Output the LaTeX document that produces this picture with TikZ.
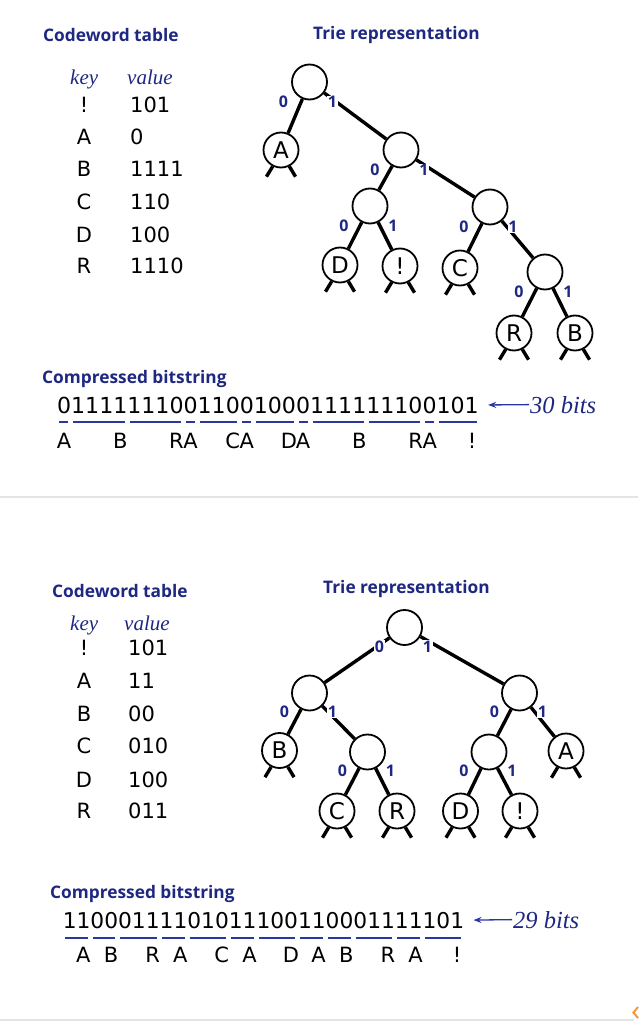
\documentclass[tikz,border=0pt]{standalone}
\usepackage{fontspec}
\usetikzlibrary{calc,arrows.meta}
\newfontfamily\dejavu{DejaVu Sans}
\newfontfamily\titlefont{Open Sans}
\newfontfamily\serifit{Liberation Serif}
\definecolor{navy}{RGB}{30,40,130}
\definecolor{ulblue}{RGB}{40,55,160}
\definecolor{sepgray}{RGB}{228,228,228}
\definecolor{orangemark}{RGB}{245,150,60}
\tikzset{
  x=1pt, y=-1pt,
  trienode/.style={circle, draw, line width=1.8pt, minimum size=35pt, inner sep=0pt, font=\dejavu\fontsize{23}{23}\selectfont},
  trieedge/.style={line width=3.4pt},
  bitlbl/.style={font=\titlefont\bfseries\fontsize{16}{16}\selectfont, text=navy, fill=white, inner sep=0.6pt},
  titletext/.style={font=\titlefont\bfseries\fontsize{17.3}{17.3}\selectfont, text=navy, anchor=base west, inner sep=0pt},
  hdr/.style={font=\serifit\itshape\fontsize{21}{21}\selectfont, text=navy, anchor=base west, inner sep=0pt},
  keycell/.style={font=\dejavu\fontsize{21}{21}\selectfont, anchor=base, inner sep=0pt},
  valcell/.style={font=\dejavu\fontsize{21}{21}\selectfont, anchor=base west, inner sep=0pt},
  letter/.style={font=\dejavu\fontsize{21}{21}\selectfont, anchor=base, inner sep=0pt},
  ul/.style={draw=ulblue, line width=2pt},
  arr/.style={draw=ulblue, line width=1.3pt, -{Stealth[length=8pt,width=6pt]}},
  bitsnote/.style={font=\serifit\itshape\fontsize{24.5}{24.5}\selectfont, text=navy, anchor=base west, inner sep=0pt},
  sepline/.style={draw=sepgray, line width=1.5pt},
}
\begin{document}
\begin{tikzpicture}
\useasboundingbox (0,0) rectangle (638,1024);
\fill[white] (0,0) rectangle (638,1024);
\draw[sepline] (0,497) -- (638,497);
\draw[sepline] (0,1020) -- (634,1020);
\draw[draw=orangemark, line width=2pt] (638,1007) -- (633.5,1012.5) -- (638,1018);

% ================= TOP =================
\node[titletext] (ttab) at (43,42) {Codeword table};
\node[titletext] (ttrie) at (313,40) {Trie representation};
\node[hdr] (tkey) at (70,85) {key};
\node[hdr] (tval) at (127,85) {value};
\foreach \k/\v/\yy [count=\i] in {!/101/113, A/0/145, B/1111/177, C/110/210, D/100/242, R/1110/273}{
  \node[keycell] (tk\i) at (84,\yy) {\k};
  \node[valcell] (tv\i) at (130,\yy) {\v};
}

% trie
\node[trienode] (t)    at (309.5,82) {};
\node[trienode] (tA)   at (281,150) {A};
\node[trienode] (t1)   at (401,150) {};
\node[trienode] (t10)  at (370,206) {};
\node[trienode] (t11)  at (490,207) {};
\node[trienode] (tD)   at (340,265) {D};
\node[trienode] (tX)   at (400,266) {!};
\node[trienode] (tC)   at (460,268) {C};
\node[trienode] (t111) at (545,272) {};
\node[trienode] (tR)   at (514,333) {R};
\node[trienode] (tB)   at (575,333) {B};
\foreach \p/\c in {t/tA, t/t1, t1/t10, t1/t11, t10/tD, t10/tX, t11/tC, t11/t111, t111/tR, t111/tB}
  \draw[trieedge] (\p) -- (\c);
\foreach \p in {t, t1, t10, t11, t111}{
  \node[bitlbl] (\p-l0) at ($(\p)+(-26,20)$) {0};
  \node[bitlbl] (\p-l1) at ($(\p)+(23,20)$) {1};
}
\foreach \n in {tA, tD, tX, tC, tR, tB}{
  \draw[trieedge] (\n.243) -- ++(239:12pt);
  \draw[trieedge] (\n.297) -- ++(301:12pt);
}

% bitstring
\node[titletext] (tcomp) at (42,383) {Compressed bitstring};
\pgfmathsetmacro{\xa}{56.9}
\pgfmathsetmacro{\wa}{14.07}
\node[font=\dejavu\fontsize{22.1}{22.1}\selectfont, anchor=base west, inner sep=0pt] (bs1) at (\xa,413) {011111110011001000111111100101};
\foreach \s/\e/\l [count=\i] in {0/1/A, 1/5/B, 5/9/R, 9/10/A, 10/13/C, 13/14/A, 14/17/D, 17/18/A, 18/22/B, 22/26/R, 26/27/A, 27/30/!}{
  \draw[ul] ({\xa+\s*\wa+2.5},421.5) -- ({\xa+\e*\wa-2.5},421.5);
  \node[letter] (bl\i) at ({\xa+(\e-0.5)*\wa},448) {\l};
}
\node[bitsnote] (n30) at (530,413) {30 bits};
\draw[arr] ([xshift=-1pt]n30.west) -- ([xshift=9pt]bs1.east);

% ================= BOTTOM =================
\node[titletext] (btab) at (52,597) {Codeword table};
\node[titletext] (btrie) at (323,593) {Trie representation};
\node[hdr] (bkey) at (70,630) {key};
\node[hdr] (bval) at (124,630) {value};
\foreach \k/\v/\yy [count=\i] in {!/101/655, A/11/688, B/00/721, C/010/753, D/100/787, R/011/818}{
  \node[keycell] (bk\i) at (84,\yy) {\k};
  \node[valcell] (bv\i) at (128,\yy) {\v};
}

\node[trienode] (b)   at (404.5,627.5) {};
\node[trienode] (bL)  at (309.5,693) {};
\node[trienode] (bRt) at (519.5,693) {};
\node[trienode] (bB)  at (279.5,750.5) {B};
\node[trienode] (bL1) at (367.5,752) {};
\node[trienode] (bR0) at (489,752) {};
\node[trienode] (bA)  at (566,751) {A};
\node[trienode] (bC)  at (337,811) {C};
\node[trienode] (bR)  at (397,811) {R};
\node[trienode] (bD)  at (460.5,811) {D};
\node[trienode] (bX)  at (520,811) {!};
\foreach \p/\c in {b/bL, b/bRt, bL/bB, bL/bL1, bRt/bR0, bRt/bA, bL1/bC, bL1/bR, bR0/bD, bR0/bX}
  \draw[trieedge] (\p) -- (\c);
\foreach \p in {b, bL, bRt, bL1, bR0}{
  \node[bitlbl] (\p-l0) at ($(\p)+(-25,19)$) {0};
  \node[bitlbl] (\p-l1) at ($(\p)+(23,19)$) {1};
}
\foreach \n in {bB, bA, bC, bR, bD, bX}{
  \draw[trieedge] (\n.243) -- ++(239:12pt);
  \draw[trieedge] (\n.297) -- ++(301:12pt);
}

\node[titletext] (bcomp) at (50,898) {Compressed bitstring};
\pgfmathsetmacro{\xb}{62.6}
\pgfmathsetmacro{\wb}{13.84}
\node[font=\dejavu\fontsize{21.76}{21.76}\selectfont, anchor=base west, inner sep=0pt] (bs2) at (\xb,928) {11000111101011100110001111101};
\foreach \s/\e/\l [count=\i] in {0/2/A, 2/4/B, 4/7/R, 7/9/A, 9/12/C, 12/14/A, 14/17/D, 17/19/A, 19/21/B, 21/24/R, 24/26/A, 26/29/!}{
  \draw[ul] ({\xb+\s*\wb+2.5},938) -- ({\xb+\e*\wb-2.5},938);
  \node[letter] (cl\i) at ({\xb+(\e-0.5)*\wb},962) {\l};
}
\node[bitsnote] (n29) at (513,928) {29 bits};
\draw[arr] ([xshift=-1pt]n29.west) -- ([xshift=9pt]bs2.east);
\end{tikzpicture}
\end{document}
